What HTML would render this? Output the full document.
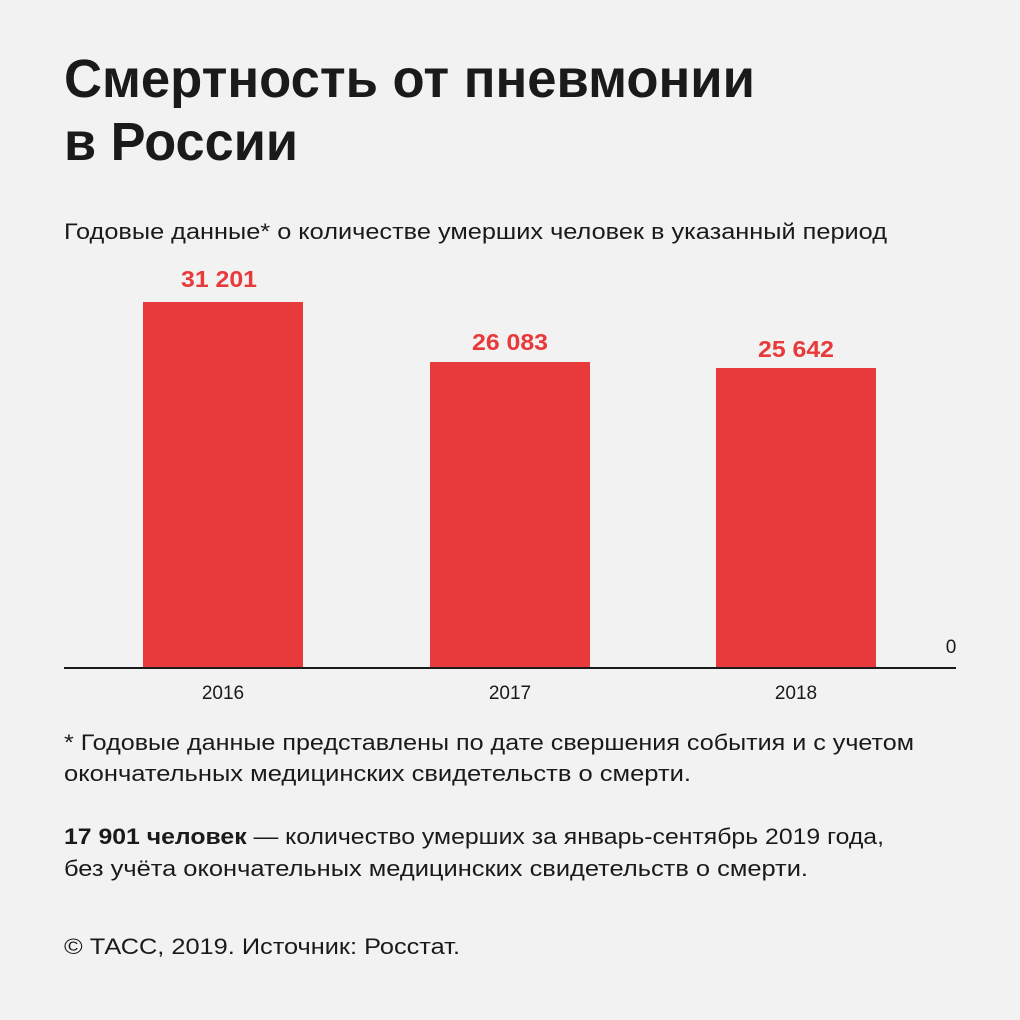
<!DOCTYPE html>
<html><head><meta charset="utf-8"><style>
html,body{margin:0;padding:0;background:#f2f2f2;}
svg{display:block;font-family:"Liberation Sans",sans-serif;}
</style></head><body>
<svg width="1020" height="1020" viewBox="0 0 1020 1020" xmlns="http://www.w3.org/2000/svg">
<rect width="1020" height="1020" fill="#f2f2f2"/>
<g fill="#1a1a1a">
<text x="64" y="97" font-size="54" font-weight="bold" textLength="691" lengthAdjust="spacingAndGlyphs">Смертность от пневмонии</text>
<text x="64" y="160" font-size="54" font-weight="bold" textLength="234" lengthAdjust="spacingAndGlyphs">в России</text>
<text x="64" y="239" font-size="22" textLength="823" lengthAdjust="spacingAndGlyphs">Годовые данные* о количестве умерших человек в указанный период</text>
</g>
<g fill="#e8393b">
<rect x="143" y="302" width="160" height="366"/>
<rect x="430" y="362" width="160" height="306"/>
<rect x="716" y="368" width="160" height="300"/>
<g font-size="23" font-weight="bold">
<text x="181" y="287" textLength="76" lengthAdjust="spacingAndGlyphs">31 201</text>
<text x="472" y="350" textLength="76" lengthAdjust="spacingAndGlyphs">26 083</text>
<text x="758" y="357" textLength="76" lengthAdjust="spacingAndGlyphs">25 642</text>
</g>
</g>
<rect x="64" y="667" width="892" height="2" fill="#1a1a1a"/>
<g fill="#1a1a1a" font-size="19" text-anchor="middle">
<text x="951" y="653">0</text>
<text x="223" y="699">2016</text>
<text x="510" y="699">2017</text>
<text x="796" y="699">2018</text>
</g>
<g fill="#1a1a1a" font-size="22">
<text x="64" y="750" textLength="850" lengthAdjust="spacingAndGlyphs">* Годовые данные представлены по дате свершения события и с учетом</text>
<text x="64" y="781" textLength="627" lengthAdjust="spacingAndGlyphs">окончательных медицинских свидетельств о смерти.</text>
<text x="64" y="844" textLength="820" lengthAdjust="spacingAndGlyphs"><tspan font-weight="bold">17 901 человек</tspan> — количество умерших за январь-сентябрь 2019 года,</text>
<text x="64" y="876" textLength="744" lengthAdjust="spacingAndGlyphs">без учёта окончательных медицинских свидетельств о смерти.</text>
<text x="64" y="954" textLength="396" lengthAdjust="spacingAndGlyphs">© ТАСС, 2019. Источник: Росстат.</text>
</g>
</svg>
</body></html>
